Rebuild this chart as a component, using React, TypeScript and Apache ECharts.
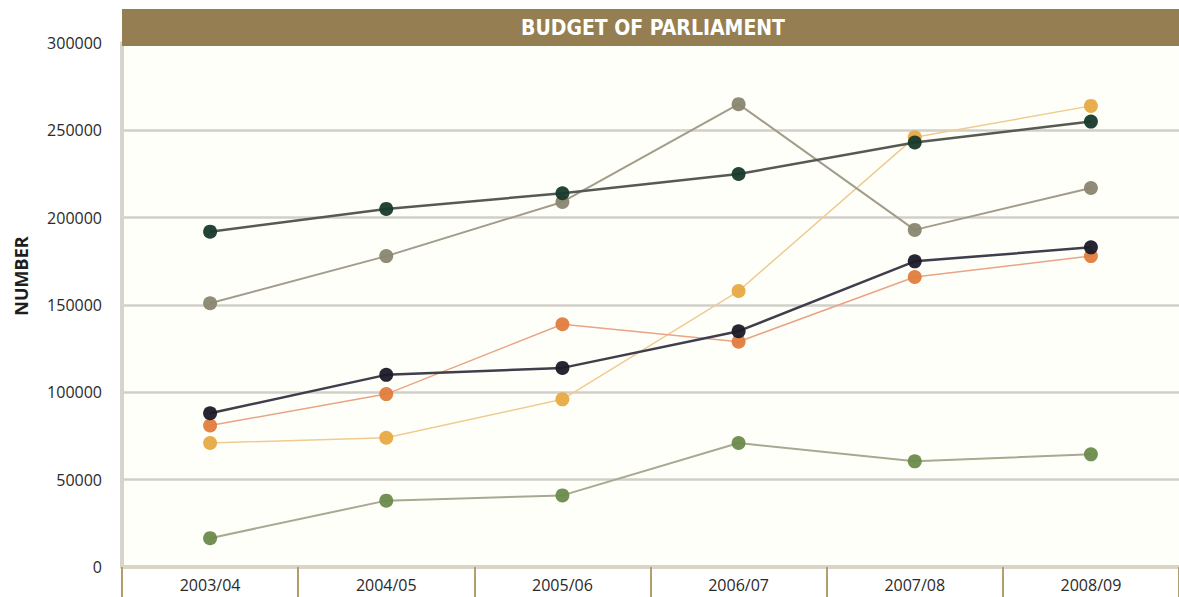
import React, { useEffect, useRef } from "react";
import * as echarts from "echarts";

const categories = ["2003/04", "2004/05", "2005/06", "2006/07", "2007/08", "2008/09"];
const darkGreenValues = [192000, 205000, 214000, 225000, 243000, 255000];
const grayValues = [151000, 178000, 209000, 265000, 193000, 217000];
const yellowValues = [71000, 74000, 96000, 158000, 246000, 264000];
const navyValues = [88000, 110000, 114000, 135000, 175000, 183000];
const orangeValues = [81000, 99000, 139000, 129000, 166000, 178000];
const greenValues = [16500, 38000, 41000, 71000, 60500, 64500];

const yTicks = { min: 0, max: 300000, interval: 50000 };

const FONT = "'Open Sans', 'Noto Sans', sans-serif";

function mk(name: string, data: number[], marker: string, line: string, width: number, z: number) {
  return {
    name,
    type: "line",
    data,
    symbol: "circle",
    symbolSize: 14,
    z,
    itemStyle: { color: marker, opacity: 0.95 },
    lineStyle: { color: line, width },
  };
}

export default function App() {
  const ref = useRef<HTMLDivElement>(null);
  useEffect(() => {
    document.body.style.margin = "0";
    const chart = echarts.init(ref.current!, null, { renderer: "svg" });
    chart.setOption({
      animation: false,
      backgroundColor: "#ffffff",
      grid: {
        left: 122,
        right: 0,
        top: 43,
        bottom: 30,
        containLabel: false,
        show: true,
        backgroundColor: "#fffffa",
        borderWidth: 0,
      },
      xAxis: {
        type: "category",
        data: categories,
        boundaryGap: true,
        axisLine: { show: true, lineStyle: { color: "#dad4c7", width: 4 } },
        axisTick: {
          show: true,
          interval: 0,
          alignWithLabel: false,
          length: 30,
          lineStyle: { color: "#b39d6f", width: 2 },
        },
        axisLabel: { color: "#2a2a2a", fontSize: 16, fontFamily: FONT, margin: 10 },
        splitLine: { show: false },
      },
      yAxis: {
        type: "value",
        min: yTicks.min,
        max: yTicks.max,
        interval: yTicks.interval,
        axisLine: { show: true, lineStyle: { color: "#d7d4ce", width: 4 } },
        axisTick: { show: false },
        axisLabel: {
          color: "#2a2a2a",
          fontSize: 16,
          fontFamily: FONT,
          margin: 20,
          formatter: (v: number) => String(v),
        },
        splitLine: { show: true, lineStyle: { color: "#d2cfc9", width: 2.5 } },
      },
      graphic: [
        {
          type: "rect",
          z: 100,
          shape: { x: 122, y: 9, width: 1057, height: 37 },
          style: { fill: "#957f52" },
        },
        {
          type: "text",
          z: 101,
          x: 653,
          y: 28,
          style: {
            text: "BUDGET OF PARLIAMENT",
            fill: "#ffffff",
            font: "bold 21px 'DejaVu Sans Condensed', 'Open Sans', sans-serif",
            align: "center",
            verticalAlign: "middle",
          },
        },
        {
          type: "text",
          z: 101,
          x: 21,
          y: 276,
          rotation: Math.PI / 2,
          style: {
            text: "NUMBER",
            fill: "#1e1e1e",
            font: "bold 18px 'Open Sans', sans-serif",
            align: "center",
            verticalAlign: "middle",
          },
        },
      ],
      series: [
        mk("Green", greenValues, "#6b8a4c", "#a9a892", 2, 2),
        mk("Yellow", yellowValues, "#e7aa45", "#efcb92", 1.5, 3),
        mk("Orange", orangeValues, "#e07c3e", "#e9a485", 1.5, 4),
        mk("Gray", grayValues, "#8b8670", "#a29c8a", 2, 5),
        mk("Navy", navyValues, "#1d1a28", "#403d4c", 2.5, 6),
        mk("Dark green", darkGreenValues, "#173a2b", "#575a52", 2.5, 7),
      ],
    });
    return () => chart.dispose();
  }, []);
  return <div ref={ref} style={{ width: 1179, height: 597 }} />;
}
